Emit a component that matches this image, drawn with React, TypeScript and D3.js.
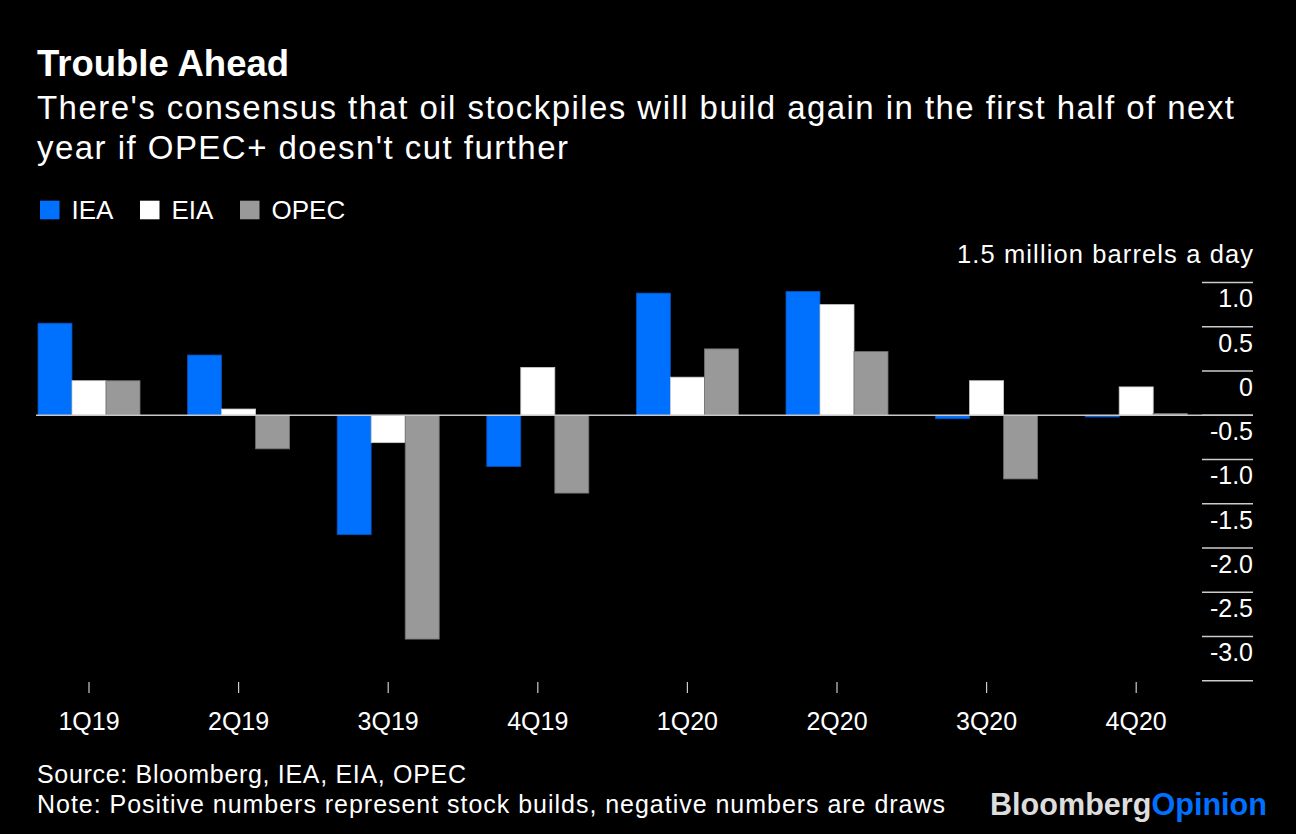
import React from "react";
import * as d3 from "d3";

const quarters = ["1Q19", "2Q19", "3Q19", "4Q19", "1Q20", "2Q20", "3Q20", "4Q20"];
const seriesNames = ["IEA", "EIA", "OPEC"];
const ieaValues = [1.04, 0.68, -1.35, -0.58, 1.38, 1.4, -0.04, -0.02];
const eiaValues = [0.39, 0.07, -0.31, 0.54, 0.43, 1.25, 0.39, 0.32];
const opecValues = [0.39, -0.38, -2.53, -0.88, 0.75, 0.72, -0.72, 0.02];
const yTicks = [1.5, 1.0, 0.5, 0, -0.5, -1.0, -1.5, -2.0, -2.5, -3.0];
const colors = ["#0070ff", "#ffffff", "#999999"];
const strokes = ["#0a4fb0", "#cccccc", "#6e6e6e"];

const W = 1296;
const H = 834;
const FONT = "'Liberation Sans', Arial, Helvetica, sans-serif";

export default function App() {
  const series = [ieaValues, eiaValues, opecValues];
  const x = d3.scaleBand<string>().domain(quarters).range([14.2, 1211]).paddingInner(0.318).paddingOuter(0.159);
  const xi = d3.scaleBand<string>().domain(seriesNames).range([0, x.bandwidth()]);
  const y = d3.scaleLinear().domain([-3.0, 1.5]).range([680.7, 282.5]);
  const y0 = y(0);

  const fmt = (v: number) => (v === 0 ? "0" : d3.format(".1f")(v).replace("\u2212", "-"));

  return (
    <svg width={W} height={H} style={{ position: "absolute", left: 0, top: 0, background: "#000" }} fontFamily={FONT}>
      <rect x={0} y={0} width={W} height={H} fill="#000" />
      <text x={37} y={76} fill="#fff" fontSize={36} fontWeight="bold" textLength={252} lengthAdjust="spacingAndGlyphs">Trouble Ahead</text>
      <text x={37} y={119} fill="#fff" fontSize={33} textLength={1197} lengthAdjust="spacing">There's consensus that oil stockpiles will build again in the first half of next</text>
      <text x={37} y={159} fill="#fff" fontSize={33} textLength={531} lengthAdjust="spacing">year if OPEC+ doesn't cut further</text>

      {/* legend */}
      {seriesNames.map((s, i) => {
        const lx = [40, 140, 240][i];
        return (
          <g key={s}>
            <rect x={lx} y={200.7} width={19.5} height={18.6} fill={colors[i]} />
            <text x={lx + 31.5} y={219.3} fill="#fff" fontSize={26}>{s}</text>
          </g>
        );
      })}

      {/* y grid ticks and labels */}
      {yTicks.map((t) => (
        <g key={t}>
          <line x1={1202} x2={1253} y1={y(t)} y2={y(t)} stroke="#cccccc" strokeWidth={1.5} />
          {t === 1.5 ? (
            <text x={1253} y={y(t) - 19.3} fill="#fff" fontSize={25.5} textAnchor="end" textLength={296} lengthAdjust="spacing">
              1.5 million barrels a day
            </text>
          ) : (
            <text x={1253} y={y(t) - 19.3} fill="#fff" fontSize={25} textAnchor="end">
              {fmt(t)}
            </text>
          )}
        </g>
      ))}

      {/* bars */}
      {quarters.map((q, qi) => (
        <g key={q} transform={`translate(${x(q)},0)`}>
          {series.map((vals, si) => {
            const v = vals[qi];
            const top = Math.min(y(v), y0);
            const h = Math.abs(y(v) - y0);
            return (
              <rect
                key={si}
                x={xi(seriesNames[si])}
                y={top}
                width={xi.bandwidth()}
                height={h}
                fill={colors[si]}
                stroke={strokes[si]}
                strokeWidth={0.8}
              />
            );
          })}
        </g>
      ))}

      {/* zero line */}
      <line x1={36} x2={1253} y1={y0} y2={y0} stroke="#c8c8c8" strokeWidth={1.5} />

      {/* x axis */}
      {quarters.map((q) => {
        const cx = (x(q) as number) + x.bandwidth() / 2;
        return (
          <g key={q}>
            <line x1={cx} x2={cx} y1={682} y2={693} stroke="#cccccc" strokeWidth={1.2} />
            <text x={cx} y={730} fill="#fff" fontSize={25} textAnchor="middle">{q}</text>
          </g>
        );
      })}

      {/* footer */}
      <text x={37} y={782.7} fill="#fff" fontSize={25} textLength={429} lengthAdjust="spacing">Source: Bloomberg, IEA, EIA, OPEC</text>
      <text x={37} y={812.7} fill="#fff" fontSize={25} textLength={908} lengthAdjust="spacing">Note: Positive numbers represent stock builds, negative numbers are draws</text>
      <text x={990} y={815} fontSize={31} fontWeight="bold" textLength={277} lengthAdjust="spacingAndGlyphs">
        <tspan fill="#dddddd">Bloomberg</tspan>
        <tspan fill="#0070ff">Opinion</tspan>
      </text>
    </svg>
  );
}
